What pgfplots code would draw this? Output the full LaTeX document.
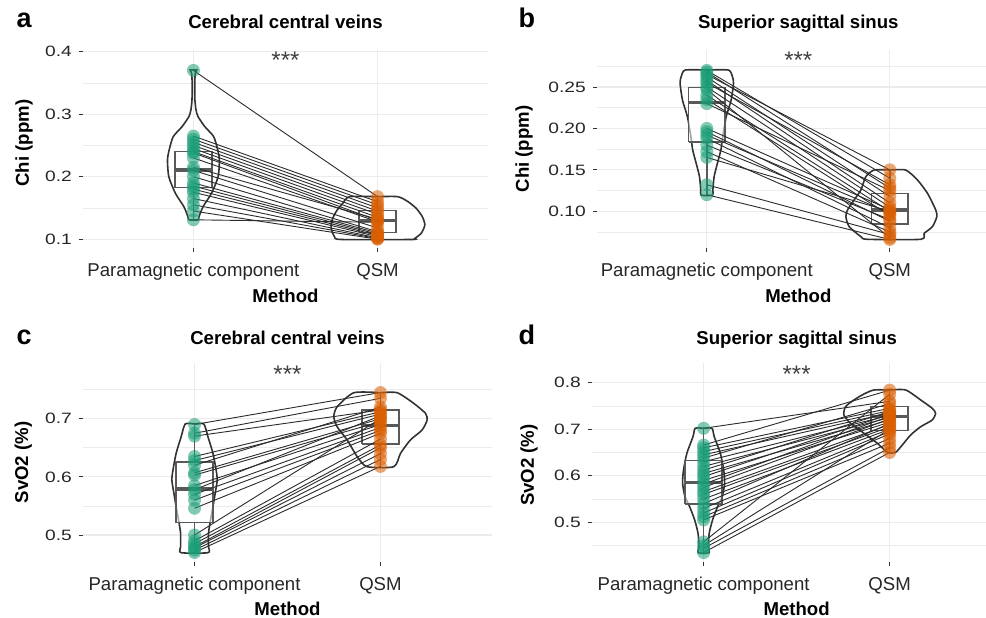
\documentclass[border=0pt]{standalone}
\usepackage{fontspec}
\setmainfont{Liberation Sans}
\newfontfamily\ytfont{Liberation Sans}[FakeStretch=1.28]
\usepackage{pgfplots}
\usepackage{pgfplotstable}
\pgfplotsset{compat=1.18}

\definecolor{pmc}{HTML}{1B9E77}
\definecolor{qsmc}{HTML}{D95F02}
\definecolor{gridc}{HTML}{EBEBEB}
\definecolor{tickc}{HTML}{333333}
\definecolor{violc}{HTML}{333333}
\definecolor{boxc}{HTML}{595959}
\definecolor{linec}{HTML}{2B2B2B}

% paired values per subject: paramagnetic component vs QSM
\pgfplotstableread{
pm qsm
0.370 0.168
0.265 0.160
0.260 0.155
0.255 0.150
0.250 0.145
0.245 0.140
0.240 0.135
0.238 0.130
0.230 0.128
0.215 0.132
0.210 0.118
0.200 0.112
0.190 0.110
0.185 0.108
0.180 0.106
0.175 0.104
0.165 0.102
0.155 0.101
0.145 0.100
0.131 0.127
}\dataA

\pgfplotstableread{
pm qsm
0.270 0.140
0.268 0.128
0.265 0.150
0.262 0.118
0.258 0.110
0.255 0.132
0.250 0.105
0.247 0.068
0.240 0.100
0.235 0.095
0.230 0.125
0.200 0.102
0.196 0.088
0.192 0.098
0.188 0.080
0.180 0.090
0.172 0.075
0.165 0.100
0.132 0.072
0.120 0.066
}\dataB

\pgfplotstableread{
pm qsm
0.690 0.745
0.675 0.735
0.670 0.715
0.635 0.712
0.628 0.708
0.620 0.720
0.607 0.700
0.603 0.695
0.585 0.690
0.578 0.705
0.570 0.685
0.560 0.680
0.546 0.675
0.500 0.700
0.490 0.665
0.485 0.655
0.480 0.650
0.478 0.640
0.474 0.630
0.470 0.618
}\dataC

\pgfplotstableread{
pm qsm
0.702 0.760
0.666 0.784
0.660 0.745
0.652 0.740
0.645 0.735
0.638 0.755
0.630 0.730
0.620 0.725
0.612 0.738
0.605 0.720
0.598 0.732
0.590 0.715
0.582 0.728
0.575 0.722
0.566 0.710
0.560 0.705
0.550 0.700
0.540 0.712
0.530 0.695
0.520 0.690
0.512 0.680
0.505 0.670
0.458 0.775
0.450 0.700
0.444 0.660
0.435 0.650
}\dataD

\pgfplotsset{
  vplot/.style={
    scale only axis, clip=false, anchor=south west,
    xmin=0.4,
    xtick={1,2}, xticklabels={Paramagnetic component,QSM},
    axis x line*=bottom, axis y line*=left, axis line style={draw=none},
    tick align=outside, major tick length=4pt, minor tick length=0pt,
    tick style={draw=tickc, line width=0.9pt},
    grid=both,
    major grid style={draw=gridc, line width=1.1pt},
    minor grid style={draw=gridc, line width=0.7pt},
    xticklabel style={font=\fontsize{18.6}{20}\selectfont, text=black!85,
      anchor=north, inner sep=0pt, yshift=-11pt},
    yticklabel style={font=\ytfont\fontsize{15}{17}\selectfont, text=black!85,
      anchor=east, inner sep=0pt, xshift=-7pt},
    title style={font=\bfseries\fontsize{18.6}{20}\selectfont, anchor=base},
    xlabel={Method},
    xlabel style={font=\bfseries\fontsize{18.6}{20}\selectfont, anchor=base},
    ylabel style={font=\bfseries\fontsize{18.6}{20}\selectfont, anchor=center},
  },
  violin/.style={violc, line width=1.6pt, smooth, tension=0.4},
  pts/.style={only marks, mark=*, mark size=6.5pt,
    mark options={draw opacity=0, fill=#1, fill opacity=0.55}},
  pair/.style={linec, line width=0.9pt},
}
% box and whiskers: left, centre, right, lower whisker, Q1, median, Q3, upper whisker
\newcommand{\bxw}[8]{%
  \addplot[boxc, line width=1.5pt] coordinates {(#2,#4)(#2,#5)};
  \addplot[boxc, line width=1.5pt] coordinates {(#2,#7)(#2,#8)};
  \addplot[boxc, line width=1.6pt, fill=white, fill opacity=0.55]
    coordinates {(#1,#5)(#3,#5)(#3,#7)(#1,#7)(#1,#5)};
  \addplot[boxc, line width=3.2pt] coordinates {(#1,#6)(#3,#6)};
}
\newcommand{\stars}{\fontsize{24}{26}\selectfont ***}

\begin{document}
\begin{tikzpicture}
\useasboundingbox (0,0) rectangle (986pt,618pt);

% ---------------- a ----------------
\begin{axis}[vplot, at={(83pt,370pt)}, width=405pt, height=198pt,
  xmax=2.6, ymin=0.0859, ymax=0.4027,
  ytick={0.1,0.2,0.3,0.4}, yticklabels={0.1,0.2,0.3,0.4},
  minor ytick={0.15,0.25,0.35},
  title={Cerebral central veins},
  title style={at={(axis description cs:0.5,1)}, yshift=15pt},
  ylabel={Chi (ppm)},
  ylabel style={at={(axis description cs:-0.1457,0.53)}},
  xlabel style={at={(axis description cs:0.5,0)}, yshift=-55pt}]
\addplot[violin] coordinates {(1.000,0.3707)(1.018,0.3707)(1.010,0.3654)(1.007,0.3494)(1.008,0.3227)(1.014,0.3067)(1.025,0.2960)(1.062,0.2800)(1.110,0.2640)(1.132,0.2427)(1.141,0.2267)(1.134,0.2000)(1.098,0.1734)(1.052,0.1520)(1.030,0.1360)(1.024,0.1310)(0.976,0.1310)(0.970,0.1360)(0.948,0.1520)(0.902,0.1734)(0.866,0.2000)(0.859,0.2267)(0.868,0.2427)(0.890,0.2640)(0.938,0.2800)(0.975,0.2960)(0.986,0.3067)(0.992,0.3227)(0.993,0.3494)(0.990,0.3654)(0.982,0.3707)(1.000,0.3707)};
\addplot[violin] coordinates {(2.000,0.1680)(2.110,0.1680)(2.165,0.1601)(2.210,0.1494)(2.243,0.1361)(2.257,0.1227)(2.237,0.1094)(2.201,0.1010)(2.183,0.0995)(1.803,0.0995)(1.766,0.1041)(1.748,0.1174)(1.753,0.1307)(1.775,0.1441)(1.811,0.1574)(1.848,0.1680)(2.000,0.1680)};
\addplot[pts=pmc] table[x expr=1, y=pm]{\dataA};
\addplot[pts=qsmc] table[x expr=2, y=qsm]{\dataA};
\bxw{0.9}{1}{1.1}{0.131}{0.1824}{0.2107}{0.240}{0.265}
\bxw{1.9}{2}{2.1}{0.100}{0.111}{0.1296}{0.1456}{0.168}
\addplot[pair, quiver={u=1, v=\thisrow{qsm}-\thisrow{pm}}] table[x expr=1, y=pm]{\dataA};
\node[anchor=base, text=black!75] at (axis cs:1.5,0.3726) {\stars};
\end{axis}

% ---------------- b ----------------
\begin{axis}[vplot, at={(597pt,370pt)}, width=389pt, height=198pt,
  xmax=2.5257, ymin=0.0557, ymax=0.2947,
  ytick={0.10,0.15,0.20,0.25}, yticklabels={0.10,0.15,0.20,0.25},
  minor ytick={0.075,0.125,0.175,0.225,0.275},
  title={Superior sagittal sinus},
  title style={at={(axis description cs:0.5175,1)}, yshift=15pt},
  ylabel={Chi (ppm)},
  ylabel style={at={(axis description cs:-0.1877,0.5)}},
  xlabel style={at={(axis description cs:0.5175,0)}, yshift=-55pt}]
\addplot[violin] coordinates {(1.000,0.2705)(1.118,0.2705)(1.140,0.2625)(1.146,0.2544)(1.133,0.2343)(1.106,0.2142)(1.087,0.1901)(1.077,0.1740)(1.058,0.1579)(1.040,0.1418)(1.033,0.1257)(1.031,0.1195)(0.969,0.1195)(0.967,0.1257)(0.960,0.1418)(0.942,0.1579)(0.923,0.1740)(0.913,0.1901)(0.894,0.2142)(0.867,0.2343)(0.854,0.2544)(0.860,0.2625)(0.882,0.2705)(1.000,0.2705)};
\addplot[violin] coordinates {(2.000,0.1498)(2.087,0.1498)(2.151,0.1378)(2.206,0.1217)(2.251,0.1016)(2.257,0.0935)(2.233,0.0815)(2.188,0.0734)(2.169,0.0662)(1.878,0.0662)(1.842,0.0694)(1.778,0.0815)(1.760,0.0935)(1.769,0.1016)(1.805,0.1137)(1.842,0.1257)(1.869,0.1418)(1.914,0.1498)(2.000,0.1498)};
\addplot[pts=pmc] table[x expr=1, y=pm]{\dataB};
\addplot[pts=qsmc] table[x expr=2, y=qsm]{\dataB};
\bxw{0.9}{1}{1.1}{0.120}{0.184}{0.231}{0.2496}{0.270}
\bxw{1.9}{2}{2.1}{0.0662}{0.0843}{0.1016}{0.1217}{0.150}
\addplot[pair, quiver={u=1, v=\thisrow{qsm}-\thisrow{pm}}] table[x expr=1, y=pm]{\dataB};
\node[anchor=base, text=black!75] at (axis cs:1.5,0.2720) {\stars};
\end{axis}

% ---------------- c ----------------
\begin{axis}[vplot, at={(83pt,56pt)}, width=409pt, height=199pt,
  xmax=2.6, ymin=0.4536, ymax=0.7958,
  ytick={0.5,0.6,0.7}, yticklabels={0.5,0.6,0.7},
  minor ytick={0.55,0.65,0.75},
  title={Cerebral central veins},
  title style={at={(axis description cs:0.5,1)}, yshift=12.3pt},
  ylabel={SvO2 (\%)},
  ylabel style={at={(axis description cs:-0.146,0.5)}},
  xlabel style={at={(axis description cs:0.5,0)}, yshift=-54pt}]
\addplot[violin] coordinates {(1.000,0.6909)(1.050,0.6909)(1.072,0.6690)(1.099,0.6405)(1.116,0.6118)(1.122,0.5946)(1.111,0.5717)(1.099,0.5487)(1.086,0.5258)(1.075,0.5029)(1.075,0.4799)(1.072,0.4696)(0.928,0.4696)(0.925,0.4799)(0.925,0.5029)(0.914,0.5258)(0.901,0.5487)(0.889,0.5717)(0.878,0.5946)(0.884,0.6118)(0.901,0.6405)(0.928,0.6690)(0.950,0.6909)(1.000,0.6909)};
\addplot[violin] coordinates {(2.000,0.7447)(2.090,0.7447)(2.179,0.7264)(2.242,0.7093)(2.251,0.6978)(2.224,0.6806)(2.161,0.6634)(2.108,0.6405)(2.072,0.6175)(1.928,0.6175)(1.875,0.6347)(1.821,0.6634)(1.767,0.6862)(1.749,0.7034)(1.767,0.7206)(1.857,0.7447)(2.000,0.7447)};
\addplot[pts=pmc] table[x expr=1, y=pm]{\dataC};
\addplot[pts=qsmc] table[x expr=2, y=qsm]{\dataC};
\bxw{0.9}{1}{1.1}{0.4696}{0.5212}{0.579}{0.626}{0.6909}
\bxw{1.9}{2}{2.1}{0.6175}{0.6565}{0.689}{0.715}{0.7447}
\addplot[pair, quiver={u=1, v=\thisrow{qsm}-\thisrow{pm}}] table[x expr=1, y=pm]{\dataC};
\node[anchor=base, text=black!75] at (axis cs:1.5,0.7629) {\stars};
\end{axis}

% ---------------- d ----------------
\begin{axis}[vplot, at={(592pt,56pt)}, width=394pt, height=199pt,
  xmax=2.518, ymin=0.4147, ymax=0.8423,
  ytick={0.5,0.6,0.7,0.8}, yticklabels={0.5,0.6,0.7,0.8},
  minor ytick={0.45,0.55,0.65,0.75},
  title={Superior sagittal sinus},
  title style={at={(axis description cs:0.5194,1)}, yshift=12.3pt},
  ylabel={SvO2 (\%)},
  ylabel style={at={(axis description cs:-0.160,0.487)}},
  xlabel style={at={(axis description cs:0.5194,0)}, yshift=-54pt}]
\addplot[violin] coordinates {(1.000,0.7020)(1.045,0.7020)(1.057,0.6840)(1.090,0.6483)(1.108,0.6124)(1.113,0.5838)(1.100,0.5550)(1.075,0.5335)(1.048,0.5049)(1.030,0.4763)(1.025,0.4475)(1.029,0.4347)(0.971,0.4347)(0.975,0.4475)(0.970,0.4763)(0.952,0.5049)(0.925,0.5335)(0.900,0.5550)(0.887,0.5838)(0.892,0.6124)(0.910,0.6483)(0.943,0.6840)(0.955,0.7020)(1.000,0.7020)};
\addplot[violin] coordinates {(2.000,0.7843)(2.086,0.7843)(2.167,0.7628)(2.229,0.7449)(2.247,0.7342)(2.229,0.7198)(2.167,0.7054)(2.113,0.6876)(2.068,0.6661)(2.032,0.6504)(1.988,0.6504)(1.934,0.6698)(1.862,0.6913)(1.790,0.7127)(1.754,0.7306)(1.763,0.7484)(1.808,0.7628)(1.862,0.7757)(1.916,0.7843)(2.000,0.7843)};
\addplot[pts=pmc] table[x expr=1, y=pm]{\dataD};
\addplot[pts=qsmc] table[x expr=2, y=qsm]{\dataD};
\bxw{0.9}{1}{1.1}{0.4347}{0.5393}{0.5851}{0.6324}{0.702}
\bxw{1.9}{2}{2.1}{0.6504}{0.6969}{0.7269}{0.7485}{0.7843}
\addplot[pair, quiver={u=1, v=\thisrow{qsm}-\thisrow{pm}}] table[x expr=1, y=pm]{\dataD};
\node[anchor=base, text=black!75] at (axis cs:1.5,0.8013) {\stars};
\end{axis}

% panel letters
\node[anchor=base west, font=\bfseries\fontsize{27}{30}\selectfont] at (13pt,590pt) {a};
\node[anchor=base west, font=\bfseries\fontsize{27}{30}\selectfont] at (515pt,590pt) {b};
\node[anchor=base west, font=\bfseries\fontsize{27}{30}\selectfont] at (13pt,273pt) {c};
\node[anchor=base west, font=\bfseries\fontsize{27}{30}\selectfont] at (515pt,273pt) {d};
\end{tikzpicture}
\end{document}
